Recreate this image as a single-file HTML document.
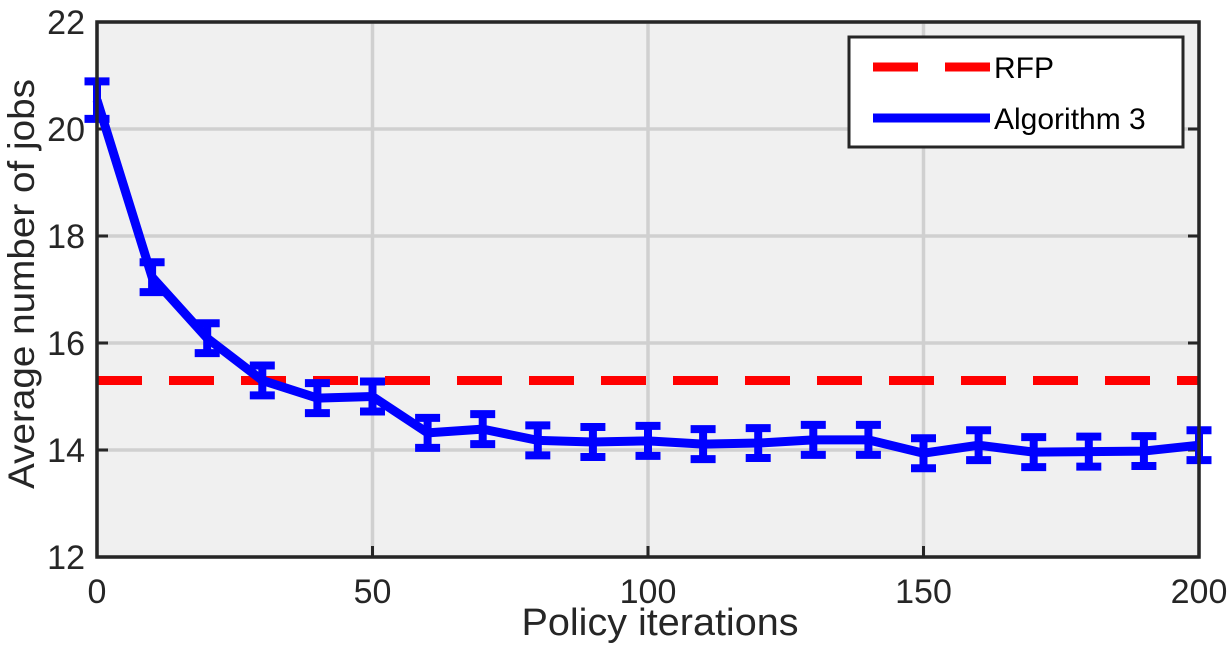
<!DOCTYPE html>
<html><head><meta charset="utf-8"><style>
body{margin:0;background:#fff;}
svg{display:block;font-family:"Liberation Sans",Arial,sans-serif;}
</style></head><body>
<svg id="chart" width="1232" height="646">
<rect x="97" y="22" width="1102" height="535" fill="#f0f0f0"/>
<g id="grid"></g>
<g id="ticks"></g>
<line id="rfp" stroke="#ff0000" stroke-width="9" stroke-dasharray="45,27"/>
<g id="series"></g>
<rect x="97" y="22" width="1102" height="535" fill="none" stroke="#262626" stroke-width="3.5"/>
<text x="660" y="635" font-size="38" text-anchor="middle" textLength="277" lengthAdjust="spacingAndGlyphs" fill="#262626">Policy iterations</text>
<text transform="translate(34,284) rotate(-90)" font-size="37" text-anchor="middle" textLength="410" lengthAdjust="spacingAndGlyphs" fill="#262626">Average number of jobs</text>
<g>
<rect x="849" y="37" width="334" height="110" fill="#fff" stroke="#262626" stroke-width="3"/>
<line x1="873" y1="67" x2="990" y2="67" stroke="#ff0000" stroke-width="9" stroke-dasharray="45,27"/>
<text x="994" y="78" font-size="30" fill="#000">RFP</text>
<line x1="873" y1="118" x2="990" y2="118" stroke="#0000ff" stroke-width="9"/>
<text x="994" y="129" font-size="30" fill="#000">Algorithm 3</text>
</g>
</svg>
<script>
const iterations=[0,10,20,30,40,50,60,70,80,90,100,110,120,130,140,150,160,170,180,190,200];
const avgJobs=[20.54,17.23,16.09,15.3,14.97,15.0,14.32,14.39,14.18,14.15,14.17,14.11,14.13,14.19,14.19,13.94,14.09,13.96,13.97,13.98,14.09];
const errHalf=[0.35,0.28,0.28,0.28,0.28,0.28,0.28,0.28,0.28,0.28,0.28,0.28,0.28,0.28,0.28,0.28,0.28,0.28,0.28,0.28,0.28];
const rfpValue=15.3;
const xTicks=[0,50,100,150,200];
const yTicks=[12,14,16,18,20,22];
const NS="http://www.w3.org/2000/svg";
const X=v=>97+(v/200)*1102;
const Y=v=>557-(v-12)/10*535;
function mk(tag,attrs,parent){const e=document.createElementNS(NS,tag);for(const k in attrs)e.setAttribute(k,attrs[k]);parent.appendChild(e);return e;}
const grid=document.getElementById('grid'),ticks=document.getElementById('ticks'),series=document.getElementById('series');
xTicks.forEach(t=>{
 const g=mk('line',{x1:X(t),x2:X(t),y1:22,y2:557,stroke:'#d0d0d0','stroke-width':3.5},grid);
 
 
 const tk=mk('line',{x1:X(t),x2:X(t),y1:557,y2:546,stroke:'#262626','stroke-width':3},ticks);
 
 
 const tx=mk('text',{x:X(t),y:603,'font-size':34,'text-anchor':'middle',fill:'#262626'},ticks);
 tx.textContent=t;
 
 
});
yTicks.forEach(t=>{
 const g=mk('line',{x1:97,x2:1199,y1:Y(t),y2:Y(t),stroke:'#d0d0d0','stroke-width':3.5},grid);
 
 
 const tk=mk('line',{x1:97,x2:108,y1:Y(t),y2:Y(t),stroke:'#262626','stroke-width':3},ticks);
 
 
 const tk2=mk('line',{x1:1188,x2:1199,y1:Y(t),y2:Y(t),stroke:'#262626','stroke-width':3},ticks);
 
 
 const tx=mk('text',{x:85,y:Y(t)+12,'font-size':34,'text-anchor':'end',fill:'#262626'},ticks);
 tx.textContent=t;
 
 
});
const r=document.getElementById('rfp');
r.setAttribute('x1',X(0));r.setAttribute('x2',X(200));r.setAttribute('y1',Y(rfpValue));r.setAttribute('y2',Y(rfpValue));
const pl=mk('polyline',{points:iterations.map((x,i)=>X(x)+','+Y(avgJobs[i])).join(' '),fill:'none',stroke:'#0000ff','stroke-width':9,'stroke-linejoin':'round'},series);


iterations.forEach((x,i)=>{
 const cx=X(x),top=Y(avgJobs[i]+errHalf[i]),bot=Y(avgJobs[i]-errHalf[i]);
 const eb=mk('path',{d:`M${cx},${top}V${bot}M${cx-12.5},${top}H${cx+12.5}M${cx-12.5},${bot}H${cx+12.5}`,stroke:'#0000ff','stroke-width':8,fill:'none'},series);
 
 
});
</script>
</body></html>
